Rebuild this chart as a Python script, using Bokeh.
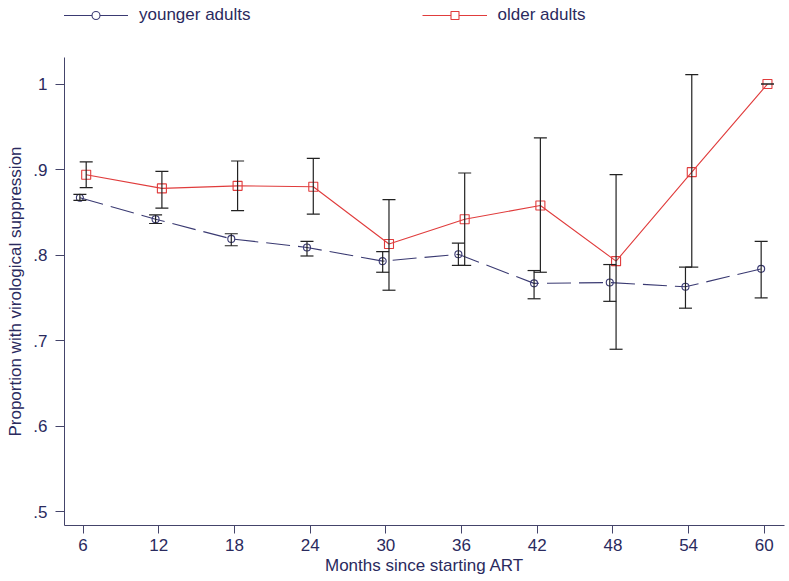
from bokeh.plotting import figure
from bokeh.layouts import column
from bokeh.models import (ColumnDataSource, Range1d, FixedTicker, CustomJSTickFormatter,
                          Whisker, TeeHead, Legend, LegendItem)
from bokeh.embed import file_html
from bokeh.resources import INLINE

# ---- data ----
months = [6, 12, 18, 24, 30, 36, 42, 48, 54, 60]
young_p  = [0.867, 0.842, 0.819, 0.809, 0.793, 0.801, 0.767, 0.768, 0.763, 0.784]
young_lo = [0.864, 0.837, 0.811, 0.799, 0.780, 0.788, 0.749, 0.746, 0.738, 0.750]
young_hi = [0.871, 0.847, 0.825, 0.816, 0.804, 0.814, 0.782, 0.789, 0.786, 0.816]
old_p  = [0.894, 0.878, 0.881, 0.880, 0.813, 0.842, 0.858, 0.793, 0.897, 1.000]
old_lo = [0.879, 0.855, 0.852, 0.848, 0.759, 0.788, 0.780, 0.690, 0.786, 1.000]
old_hi = [0.909, 0.898, 0.910, 0.913, 0.865, 0.896, 0.937, 0.894, 1.011, 1.000]
x_ticks = months
y_ticks = [0.5, 0.6, 0.7, 0.8, 0.9, 1.0]
offset = 0.25  # small horizontal shift between the groups

TEXT = "#2a2a5e"
AXIS = "#44446a"
NAVY = "#3a3a72"
RED = "#e03c3c"
FONT = "Liberation Sans"

young = ColumnDataSource(dict(x=[m - offset for m in months], p=young_p, lo=young_lo, hi=young_hi))
old = ColumnDataSource(dict(x=[m + offset for m in months], p=old_p, lo=old_lo, hi=old_hi))

# ---------- key strip on top ----------
key = figure(width=789, height=57, output_backend="svg", toolbar_location=None,
             x_axis_location=None, y_axis_location=None,
             x_range=Range1d(0, 1), y_range=Range1d(0, 1),
             min_border=0)
key.outline_line_color = None
key.xgrid.visible = False
key.ygrid.visible = False
key.background_fill_color = "white"
key.border_fill_color = "white"

nan = float("nan")
dy_line = key.line([nan], [nan], line_color=NAVY, line_width=1.1)
dy_mark = key.scatter([nan], [nan], marker="circle", size=7, line_color=NAVY, fill_color="white", line_width=1.1)
do_line = key.line([nan], [nan], line_color=RED, line_width=1.1)
do_mark = key.scatter([nan], [nan], marker="square", size=9, line_color=RED, fill_color="white", line_width=1.1)

legend = Legend(items=[LegendItem(label="younger adults", renderers=[dy_line, dy_mark]),
                       LegendItem(label="older adults", renderers=[do_line, do_mark])],
                orientation="horizontal", location=(-1, 32),
                glyph_width=65, glyph_height=20, label_standoff=11, spacing=171,
                padding=0, margin=0, border_line_color=None, background_fill_alpha=0,
                label_text_font=FONT, label_text_font_size="17px", label_text_color=TEXT)
key.add_layout(legend, "center")

# ---------- main plot ----------
p = figure(width=789, height=524, output_backend="svg", toolbar_location=None,
           x_range=Range1d(4.53, 61.6), y_range=Range1d(0.484, 1.031),
           min_border_left=64, min_border_right=5, min_border_top=0, min_border_bottom=56)
p.outline_line_color = None
p.background_fill_color = "white"
p.border_fill_color = "white"
p.xgrid.visible = False
p.ygrid.visible = False

p.line("x", "p", source=young, line_color=NAVY, line_width=1.1, line_dash="24 8")
p.line("x", "p", source=old, line_color=RED, line_width=1.1)

for src in (young, old):
    w = Whisker(source=src, base="x", lower="lo", upper="hi", dimension="height",
                line_color="#222222", line_width=1.2, level="overlay",
                lower_head=TeeHead(size=13, line_color="#222222", line_width=1.2),
                upper_head=TeeHead(size=13, line_color="#222222", line_width=1.2))
    p.add_layout(w)

p.scatter("x", "p", source=young, marker="circle", size=7, line_color=NAVY,
          fill_color="white", fill_alpha=0.0, line_width=1.1, level="overlay")
p.scatter("x", "p", source=old, marker="square", size=9, line_color=RED,
          fill_color="white", fill_alpha=0.0, line_width=1.1, level="overlay")

for ax in (p.xaxis[0], p.yaxis[0]):
    ax.axis_line_color = AXIS
    ax.major_tick_line_color = AXIS
    ax.minor_tick_line_color = None
    ax.major_tick_in = 0
    ax.major_label_text_font = FONT
    ax.major_label_text_font_size = "17px"
    ax.major_label_text_color = TEXT
    ax.axis_label_text_font = FONT
    ax.axis_label_text_font_size = "17px"
    ax.axis_label_text_font_style = "normal"
    ax.axis_label_text_color = TEXT

p.xaxis.ticker = FixedTicker(ticks=x_ticks)
p.xaxis.major_tick_out = 8
p.xaxis.major_label_standoff = 5
p.xaxis.axis_label = "Months since starting ART"
p.xaxis.axis_label_standoff = 2

p.yaxis.ticker = FixedTicker(ticks=y_ticks)
p.yaxis.formatter = CustomJSTickFormatter(
    code="return tick >= 0.999 ? '1' : tick.toFixed(1).replace(/^0/, '');")
p.yaxis.major_tick_out = 9
p.yaxis.major_label_standoff = 8
p.yaxis.axis_label = "Proportion with virological suppression"
p.yaxis.axis_label_standoff = 5

layout = column(key, p, spacing=0)
open("out.html", "w").write(file_html(layout, INLINE))
